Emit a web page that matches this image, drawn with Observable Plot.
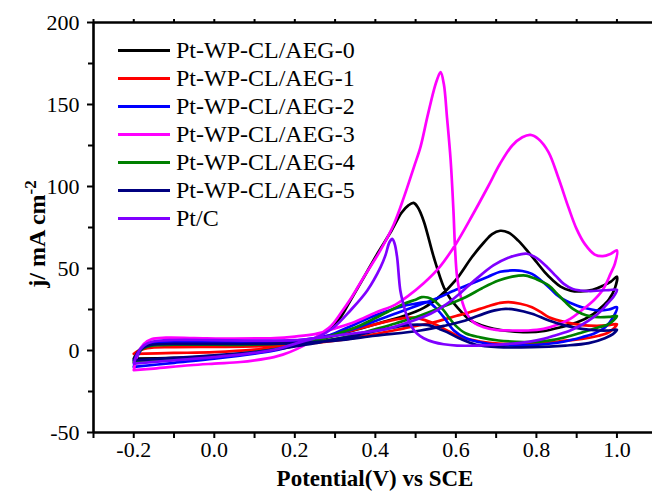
<!DOCTYPE html>
<html><head><meta charset="utf-8">
<script src="https://cdn.jsdelivr.net/npm/d3@7"></script>
<script src="https://cdn.jsdelivr.net/npm/@observablehq/plot@0.6"></script>
<style>
html,body{margin:0;padding:0;background:#fff;overflow:hidden}
#wrap{position:relative;width:652px;height:491px;overflow:hidden;font-family:"Liberation Serif","DejaVu Serif","Noto Serif",serif;color:#000}
#chart{position:absolute;left:0;top:0}
#ytitle{position:absolute;left:37px;top:234px;transform:translate(-50%,-50%) rotate(-90deg);white-space:nowrap;font-weight:bold;font-size:24px;line-height:24px}
#ytitle sup{font-size:17px;vertical-align:9px;line-height:0}
#xtitle{position:absolute;left:93px;width:564px;top:468px;text-align:center;font-weight:bold;font-size:23px;line-height:22px;white-space:nowrap}
#legend{position:absolute;left:118px;top:36px}
.row{display:flex;align-items:center;height:28px;font-size:24px;line-height:26px;white-space:nowrap}
.sw{width:52px;height:3px;margin-right:6px}
</style></head><body>
<div id="wrap"><div id="chart"></div><div id="ytitle">j/ mA cm<sup>-2</sup></div><div id="xtitle">Potential(V) vs SCE</div><div id="legend"></div></div>
<script>
// ---- series names & colours
const seriesNames = ["Pt-WP-CL/AEG-0","Pt-WP-CL/AEG-1","Pt-WP-CL/AEG-2","Pt-WP-CL/AEG-3","Pt-WP-CL/AEG-4","Pt-WP-CL/AEG-5","Pt/C"];
const seriesColors = ["#000000","#ff0000","#0000ff","#ff00ff","#008000","#000080","#8000ff"];

// ---- axis ticks
const xDomain = [-0.3, 1.1];
const yDomain = [-50, 200];
const xLabelTicks = [-0.2, 0.0, 0.2, 0.4, 0.6, 0.8, 1.0];
const xMinorTicks = [-0.3, -0.1, 0.1, 0.3, 0.5, 0.7, 0.9];
const yLabelTicks = [-50, 0, 50, 100, 150, 200];
const yMinorTicks = [-25, 25, 75, 125, 175];

// ---- CV loops: [potential V, current density mA cm-2], forward then backward scan
const cvAEG0 = [[-0.2,-5],[-0.19,-0.5],[-0.175,2.5],[-0.155,3.8],[-0.1,4.3],[0,4],[0.1,4],[0.2,5],[0.25,6.5],[0.3,9],[0.35,12.5],[0.4,16],[0.47,21],[0.52,26],[0.56,33],[0.6,43],[0.64,57],[0.67,66],[0.69,71],[0.71,73],[0.73,72],[0.755,67],[0.78,60],[0.8,54],[0.82,48],[0.84,43],[0.86,39],[0.885,36.5],[0.91,36],[0.94,37],[0.965,39.5],[0.985,42],[1.0,45],
  [0.995,38],[0.98,31],[0.96,26],[0.942,22.4],[0.9,17],[0.86,14.2],[0.82,12],[0.777,11.2],[0.735,11.8],[0.694,13.2],[0.665,15.2],[0.636,18.3],[0.603,26.4],[0.585,32],[0.57,38.6],[0.545,57],[0.52,79],[0.505,87.5],[0.495,90],[0.482,88.5],[0.465,84],[0.44,73],[0.405,59],[0.37,44],[0.338,30.5],[0.31,19],[0.28,12],[0.25,7.5],[0.2,3.5],[0.15,0.5],[0.1,-1.5],[0,-3.5],[-0.1,-4.5],[-0.2,-5]];
const cvAEG1 = [[-0.2,-2],[-0.19,-0.5],[-0.175,1],[-0.155,1.8],[-0.1,2],[0,2.2],[0.1,2.5],[0.2,3.5],[0.3,6],[0.4,10],[0.471,13.5],[0.55,17.5],[0.6,21],[0.636,23.5],[0.68,27],[0.71,29],[0.731,29.5],[0.76,28.5],[0.789,26.4],[0.81,23.5],[0.831,20.3],[0.872,17.3],[0.913,15.5],[0.95,15],[0.975,15.3],[1.0,16],
  [0.99,13],[0.975,10.5],[0.955,9],[0.913,7],[0.872,6],[0.83,4.8],[0.789,4.1],[0.745,4],[0.706,4.2],[0.66,5.5],[0.628,7.1],[0.6,9.5],[0.578,12.2],[0.557,15],[0.537,17.3],[0.512,19.3],[0.49,20],[0.471,19.7],[0.43,17.8],[0.388,15.2],[0.35,12.7],[0.305,10.2],[0.25,7],[0.2,4],[0.15,2],[0.1,0.5],[0,-1],[-0.1,-1.5],[-0.2,-2]];
const cvAEG2 = [[-0.2,-10],[-0.19,-3],[-0.175,2.5],[-0.155,4.5],[-0.1,5.2],[0,5.1],[0.1,5],[0.2,6],[0.25,7.5],[0.3,10],[0.35,13.5],[0.4,18],[0.45,22.5],[0.5,27],[0.55,31.5],[0.6,37],[0.636,40.6],[0.68,45],[0.71,48],[0.74,48.8],[0.765,48.5],[0.789,46.7],[0.81,43],[0.831,38.6],[0.85,34],[0.872,30.5],[0.9,27.5],[0.913,26.4],[0.955,24.4],[0.98,25],[1.0,26.4],
  [0.99,20],[0.971,14.2],[0.945,10.5],[0.913,8.1],[0.87,5.5],[0.831,4.1],[0.79,3.3],[0.748,3],[0.7,3.5],[0.66,5],[0.628,7.1],[0.595,12.2],[0.57,20.3],[0.55,26],[0.535,29],[0.525,29.5],[0.505,28.8],[0.471,27.2],[0.43,24],[0.388,20.3],[0.35,16],[0.305,11.2],[0.264,7],[0.2,3],[0.15,0],[0.1,-2],[0,-5],[-0.1,-7.5],[-0.2,-10]];
const cvAEG3 = [[-0.2,-12],[-0.19,-2],[-0.175,4],[-0.155,7],[-0.12,7.8],[-0.05,7.6],[0.05,7.3],[0.15,7.6],[0.2,8.5],[0.25,10],[0.3,13.5],[0.35,17.5],[0.4,23],[0.45,28],[0.48,33],[0.52,41],[0.56,51],[0.6,65],[0.64,82],[0.68,100],[0.71,114],[0.74,125],[0.765,130],[0.785,131.5],[0.805,129],[0.83,121],[0.855,105],[0.88,87],[0.9,74],[0.92,65],[0.945,58.5],[0.965,57.5],[0.985,59],[1.0,61],
  [0.995,53],[0.984,46.7],[0.965,37],[0.942,30.5],[0.91,24],[0.884,19.3],[0.85,15.5],[0.818,13.2],[0.78,12.2],[0.735,12.2],[0.7,12.6],[0.669,14.2],[0.645,17],[0.628,22],[0.612,33],[0.603,45],[0.598,62],[0.594,85],[0.587,116],[0.578,142],[0.57,162.6],[0.562,169.7],[0.553,165],[0.545,158.5],[0.529,142.3],[0.512,124],[0.496,112],[0.471,93.5],[0.446,77],[0.41,60],[0.371,44.7],[0.34,32],[0.313,22.4],[0.29,15],[0.264,10.2],[0.235,5],[0.206,1],[0.17,-2.5],[0.148,-4],[0.1,-6],[0.065,-7],[0,-8],[-0.06,-9],[-0.15,-11],[-0.2,-12]];
const cvAEG4 = [[-0.2,-7],[-0.19,-1.5],[-0.175,1.5],[-0.155,3],[-0.1,3.5],[0,3.5],[0.1,3.5],[0.2,4.5],[0.25,5.5],[0.3,7],[0.35,9.5],[0.388,12.2],[0.45,16.5],[0.512,21.3],[0.57,27],[0.624,32.5],[0.665,38],[0.706,42.7],[0.74,45],[0.773,45.7],[0.8,43.5],[0.831,39.6],[0.85,35],[0.872,29.5],[0.89,25.5],[0.913,22.4],[0.935,20.8],[0.955,20.3],[0.98,20.5],[1.0,21],
  [0.99,18],[0.975,15.5],[0.955,14.2],[0.913,11],[0.872,8.1],[0.83,6],[0.789,5.1],[0.75,5.3],[0.706,6.1],[0.66,8],[0.624,10.5],[0.6,15],[0.583,20],[0.57,24.4],[0.555,28.5],[0.545,30.5],[0.53,32.3],[0.515,32.5],[0.5,31],[0.471,28.5],[0.43,23.5],[0.388,18.3],[0.35,14],[0.305,10.2],[0.25,6],[0.2,3],[0.15,0.8],[0.1,-1],[0,-3.5],[-0.1,-5.5],[-0.2,-7]];
const cvAEG5 = [[-0.2,-6],[-0.19,-1],[-0.175,2],[-0.155,3.5],[-0.1,4],[0,4],[0.1,4],[0.2,4.5],[0.3,6],[0.4,9],[0.512,12.2],[0.57,15],[0.624,18.3],[0.67,22.5],[0.7,24.6],[0.723,25.4],[0.75,24.8],[0.789,22.4],[0.831,18.3],[0.872,15.2],[0.913,13.2],[0.955,12.2],[0.98,12.2],[1.0,12.6],
  [0.99,10],[0.97,7.5],[0.93,4.5],[0.872,3],[0.789,2],[0.706,2],[0.65,3.5],[0.611,7.1],[0.578,11.2],[0.555,13.5],[0.537,15.2],[0.505,15.8],[0.471,15.2],[0.43,13.3],[0.388,11.2],[0.35,9],[0.305,7.1],[0.25,4.5],[0.2,2.5],[0.15,0.5],[0.1,-1],[0,-3],[-0.1,-4.5],[-0.2,-6]];
const cvPtC = [[-0.2,-8],[-0.19,-1.5],[-0.175,3],[-0.155,5.3],[-0.1,6.4],[0,6.3],[0.1,6],[0.2,6.3],[0.25,7.5],[0.3,9],[0.35,10.5],[0.429,13.2],[0.48,17],[0.537,22.4],[0.575,28],[0.611,35],[0.65,43.5],[0.694,52],[0.73,56.5],[0.757,58.5],[0.777,59],[0.8,56.5],[0.827,50.8],[0.848,45.5],[0.868,40.6],[0.89,37.5],[0.909,36.6],[0.935,36.2],[0.959,36.6],[0.98,36.8],[1.0,37],
  [0.992,33],[0.976,28.5],[0.96,24],[0.942,20.3],[0.915,16],[0.884,12.2],[0.85,9.5],[0.818,7.1],[0.78,5.3],[0.735,4.1],[0.69,3.4],[0.653,3],[0.603,3],[0.57,3.8],[0.545,5.1],[0.52,7.5],[0.504,10.2],[0.49,14.5],[0.479,20.3],[0.47,28],[0.462,36.6],[0.454,56.9],[0.448,65],[0.442,68.1],[0.435,66],[0.425,58],[0.413,50.8],[0.38,36.6],[0.338,24.4],[0.297,14.2],[0.256,8.1],[0.214,5.1],[0.15,0.5],[0.1,-1.5],[0,-4],[-0.1,-6],[-0.2,-8]];

const curves = [cvAEG0, cvAEG1, cvAEG2, cvAEG3, cvAEG4, cvAEG5, cvPtC];
const rows = [];
curves.forEach((c, k) => c.forEach(([v, j], i) => rows.push({series: seriesNames[k], i, v, j})));

const fmtX = d => d.toFixed(1);
const fmtY = d => String(d);
const blank = () => "";

const chart = Plot.plot({
  width: 652, height: 491,
  marginLeft: 93, marginRight: 0, marginTop: 22, marginBottom: 59,
  style: {fontFamily: "'Liberation Serif','DejaVu Serif','Noto Serif',serif", fontSize: "22px", color: "#000", background: "#fff", overflow: "visible"},
  x: {domain: xDomain, range: [93, 656.7]},
  y: {domain: yDomain},
  color: {domain: seriesNames, range: seriesColors},
  marks: [
    Plot.line(rows, {x: "v", y: "j", z: "series", stroke: "series", curve: "catmull-rom", strokeWidth: 2.7, strokeLinejoin: "round"}),
    Plot.ruleX([xDomain[0]], {stroke: "#000", strokeWidth: 2.6}),
    Plot.ruleY([yDomain[0]], {stroke: "#000", strokeWidth: 2.6}),
    Plot.ruleY([yDomain[1]], {stroke: "#000", strokeWidth: 2.6}),
    Plot.axisX({ticks: xLabelTicks, tickFormat: fmtX, tickSize: 6, tickPadding: 3, strokeWidth: 2, label: null}),
    Plot.axisX({ticks: xMinorTicks, tickFormat: blank, tickSize: 6, strokeWidth: 2, label: null}),
    Plot.axisX({anchor: "top", ticks: xLabelTicks.concat(xMinorTicks), tickFormat: blank, tickSize: 4, strokeWidth: 2, label: null}),
    Plot.axisY({ticks: yLabelTicks, tickFormat: fmtY, tickSize: 6, tickPadding: 8, strokeWidth: 2, label: null}),
    Plot.axisY({ticks: yMinorTicks, tickFormat: blank, tickSize: 5, strokeWidth: 2, label: null})
  ]
});
document.getElementById("chart").appendChild(chart);

const legend = document.getElementById("legend");
seriesNames.forEach((name, k) => {
  const row = document.createElement("div");
  row.className = "row";
  const sw = document.createElement("span");
  sw.className = "sw";
  sw.style.background = seriesColors[k];
  const t = document.createElement("span");
  t.textContent = name;
  row.appendChild(sw); row.appendChild(t);
  legend.appendChild(row);
});
</script>
</body></html>
